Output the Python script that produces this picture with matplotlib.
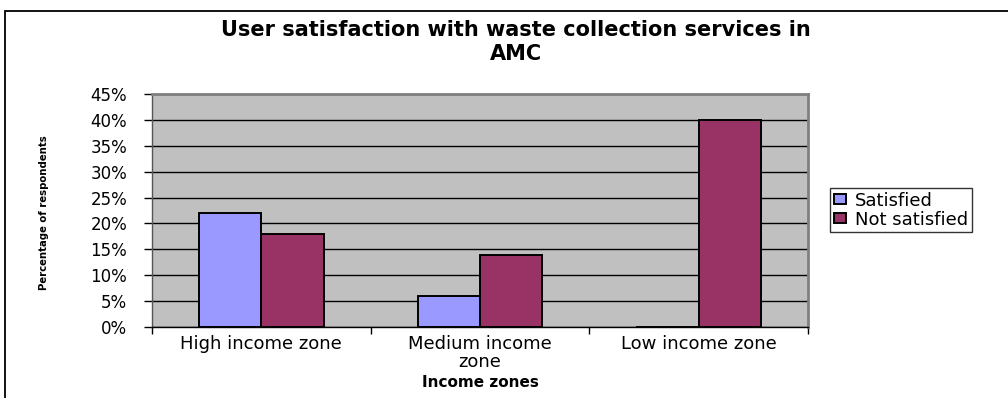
import matplotlib
matplotlib.use("Agg")
import matplotlib.pyplot as plt
from matplotlib.patches import Rectangle
from matplotlib.ticker import PercentFormatter, FixedLocator
import numpy as np

zones = ["High income zone", "Medium income\nzone", "Low income zone"]
satisfied = [0.22, 0.06, 0.0]
not_satisfied = [0.18, 0.14, 0.40]
y_ticks = [0.0, 0.05, 0.10, 0.15, 0.20, 0.25, 0.30, 0.35, 0.40, 0.45]

plt.rcParams["font.family"] = ["DejaVu Sans"]

fig = plt.figure(figsize=(10.08, 3.98), dpi=100)
ax = fig.add_axes([152 / 1008, 71 / 398, 656 / 1008, 233 / 398])

# chart frame around everything
W, H = 1008, 398
fig.patches.append(Rectangle((5 / W, -0.1), 1.2, (H - 11) / H + 0.1,
                             transform=fig.transFigure, fill=False,
                             edgecolor="black", lw=1.3, clip_on=False))

x = np.arange(len(zones))
w = 0.2857
ax.bar(x - w / 2, satisfied, w, color="#9999FF", edgecolor="black", lw=1.4,
       label="Satisfied", zorder=3)
ax.bar(x + w / 2, not_satisfied, w, color="#993366", edgecolor="black", lw=1.4,
       label="Not satisfied", zorder=3)

ax.set_facecolor("#C0C0C0")
ax.set_xlim(-0.5, 2.5)
ax.set_ylim(0, 0.45)
ax.set_yticks(y_ticks)
ax.yaxis.set_major_formatter(PercentFormatter(1.0, decimals=0))
ax.yaxis.grid(True, color="black", lw=1)
ax.set_axisbelow(True)

ax.set_xticks(x)
ax.set_xticklabels(zones, fontsize=13, linespacing=0.95)
ax.xaxis.set_minor_locator(FixedLocator([-0.5, 0.5, 1.5, 2.5]))
ax.tick_params(axis="x", which="major", length=0, pad=6)
ax.tick_params(axis="x", which="minor", length=5, color="black", width=1)
ax.tick_params(axis="y", length=6, width=1, labelsize=12, pad=12)

for side in ("top", "right"):
    ax.spines[side].set_color("#808080")
    ax.spines[side].set_linewidth(2)
for side in ("left", "bottom"):
    ax.spines[side].set_color("black")
    ax.spines[side].set_linewidth(1)
ax.spines["left"].set_color("#555555")

ax.set_xlabel("Income zones", fontsize=11, fontweight="bold", labelpad=3)
fig.text(44 / W, 1 - 213 / H, "Percentage of respondents", rotation=90,
         ha="center", va="center", fontsize=7.3, fontweight="bold")

fig.text(516 / W, 1 - 30 / H, "User satisfaction with waste collection services in",
         ha="center", va="center", fontsize=15, fontweight="bold")
fig.text(516 / W, 1 - 54 / H, "AMC",
         ha="center", va="center", fontsize=15, fontweight="bold")

leg = fig.legend(loc="upper left", bbox_to_anchor=(830 / W, 1 - 188 / H),
                 fontsize=13, frameon=True, fancybox=False, borderpad=0.2,
                 handlelength=0.7, handleheight=0.5, handletextpad=0.5,
                 labelspacing=0.05, borderaxespad=0)
leg.get_frame().set_edgecolor("black")
leg.get_frame().set_linewidth(1)

fig.savefig("out.png", dpi=100)
